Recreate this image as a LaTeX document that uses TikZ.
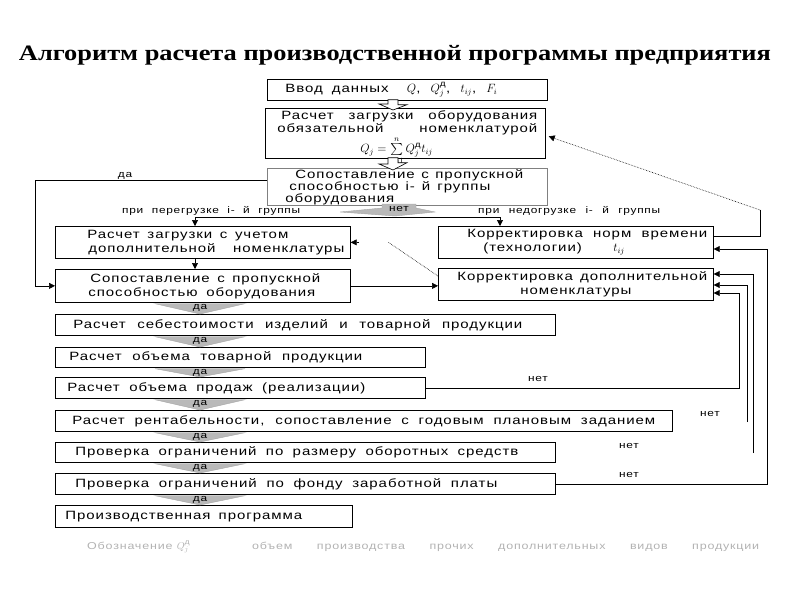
\documentclass[tikz,border=0pt]{standalone}
\usepackage{amsmath}
\usepackage{graphicx}
\usepackage{fontspec}
\setmainfont{Liberation Sans}[FakeStretch=1.25, LetterSpace=8]
\newfontfamily\titlefont{Liberation Serif}[FakeStretch=1.2]
\usetikzlibrary{calc,arrows.meta}

% one line spread to a given width
\newcommand{\wline}[2]{\makebox[#1][s]{\spaceskip=0pt\xspaceskip=0pt #2}}

\tikzset{
  blk/.style={draw, line width=0.7pt, anchor=north west, inner xsep=6pt, inner ysep=0pt,
    align=left, font=\fontsize{12}{14}\selectfont},
  arr/.style={-{Triangle[length=6pt,width=6pt]}},
  link/.style={line width=0.6pt},
  yes/.style={fill=gray!55, draw=gray!70, line width=0.4pt},
  lbl/.style={font=\fontsize{9.5}{10}\selectfont, inner sep=0pt},
}

\begin{document}
\begin{tikzpicture}[x=1pt,y=-1pt]
\useasboundingbox (0,0) rectangle (800,600);

\node[font=\titlefont\bfseries\fontsize{22}{26}\selectfont] (title) at (395,55)
  {Алгоритм расчета производственной программы предприятия};

% upper part
\node[blk, text width=268pt, minimum height=21pt] (inp) at (267,79)
  {\hspace*{12pt}\wline{212pt}{Ввод данных \ $Q$, $Q_j^{\text{д}}$, $t_{ij}$, $F_i$}};
\node[blk, text width=268pt, minimum height=50pt] (load) at (265,108)
  {\hspace*{10pt}\wline{256pt}{Расчет загрузки оборудования}\\[-1pt]
   \hspace*{6pt}\wline{260pt}{обязательной номенклатурой}\\[6pt]
   \hspace*{89pt}\raisebox{0pt}[9pt][3pt]{$Q_j=\sum\limits_{i=1}^{n}Q_j^{\text{д}}t_{ij}$}};
\node[blk, draw=gray, text width=268pt, minimum height=37pt, font=\fontsize{12}{12}\selectfont] (cmp) at (267,168)
  {\hspace*{22pt}\wline{228pt}{Сопоставление с пропускной}\\
   \hspace*{16pt}\wline{201pt}{способностью i- й группы}\\
   \hspace*{12pt}оборудования};

\node[blk, text width=283pt, minimum height=32pt] (addl) at (55,226)
  {\hspace*{26pt}\wline{201pt}{Расчет загрузки с учетом}\\
   \hspace*{27pt}\wline{256pt}{дополнительной номенклатуры}};
\node[blk, text width=263pt, minimum height=32pt] (norm) at (438,226)
  {\hspace*{23pt}\wline{240pt}{Корректировка норм времени}\\
   \hspace*{39pt}\makebox[130pt][l]{(технологии)}$t_{ij}$};
\node[blk, text width=283pt, minimum height=33pt] (cmpb) at (55,269)
  {\hspace*{29pt}\wline{230pt}{Сопоставление с пропускной}\\
   \hspace*{27pt}\wline{227pt}{способностью оборудования}};
\node[blk, text width=263pt, minimum height=32pt] (corr) at (438,268)
  {\hspace*{13pt}\wline{250pt}{Корректировка дополнительной}\\
   \hspace*{76pt}номенклатуры};

% lower chain
\node[blk, text width=488pt, minimum height=21pt] (cost) at (55,314)
  {\hspace*{12pt}\wline{449pt}{Расчет себестоимости изделий и товарной продукции}};
\node[blk, text width=358pt, minimum height=20pt] (vol) at (55,347)
  {\hspace*{8pt}\wline{293pt}{Расчет объема товарной продукции}};
\node[blk, text width=358pt, minimum height=21pt] (sale) at (55,377)
  {\hspace*{6pt}\wline{298pt}{Расчет объема продаж (реализации)}};
\node[blk, text width=605pt, minimum height=21pt] (prof) at (55,410)
  {\hspace*{11pt}\wline{583pt}{Расчет рентабельности, сопоставление с годовым плановым заданием}};
\node[blk, text width=488pt, minimum height=20pt] (cash) at (55,442)
  {\hspace*{14pt}\wline{443pt}{Проверка ограничений по размеру оборотных средств}};
\node[blk, text width=488pt, minimum height=21pt] (wage) at (55,473)
  {\hspace*{14pt}\wline{422pt}{Проверка ограничений по фонду заработной платы}};
\node[blk, text width=285pt, minimum height=22pt] (prog) at (55,505)
  {\hspace*{4pt}\wline{237pt}{Производственная программа}};

% routing points
\coordinate (axis) at (393,0);
\coordinate (yesrow) at (35,180);
\coordinate (spL) at (195,217);
\coordinate (spR) at (500,217);
\coordinate (dotend) at (388,242);
\coordinate (fb0) at (760,210);
\coordinate (fb1) at (767,249);
\coordinate (fb2) at (753,453);
\coordinate (fb3) at (747,422);
\coordinate (fb4) at (739,293);

% hollow arrows
\foreach \u/\v in {inp/load, load/cmp}
  \draw[line width=0.6pt, fill=white] ($(\u.south -| axis)+(-5,-1)$) -- ++(10,0) -- ++(0,5)
    -- ++(9,0) -- ($(\v.north -| axis)+(0,2)$) -- ++(-14,-6) -- ++(9,0) -- cycle;

% gray "нет" arrow and split line
\draw[link] (spL) -- (spR);
\filldraw[yes] (340,212) -- (382,208) -- (382,204) -- (416,204) -- (416,208) -- (435,212)
  -- (395,216) -- cycle;
\node[lbl] (no0) at (399,209) {нет};
\draw[link, arr] (spL) -- (spL |- addl.north);
\draw[link, arr] (spR) -- (spR |- norm.north);
\node[lbl, anchor=west] (over) at (122,211) {\wline{178pt}{при перегрузке i- й группы}};
\node[lbl, anchor=west] (under) at (478,211) {\wline{182pt}{при недогрузке i- й группы}};

% left "да" link
\draw[link, arr] (cmp.west |- yesrow) -- (yesrow) |- (cmpb.west);
\node[lbl] (yes0) at (125,176) {да};

\draw[link, arr] (spL |- addl.south) -- (spL |- cmpb.north);
\draw[link, arr] (cmpb.east) -- (cmpb.east -| corr.west);
\draw[link, densely dotted] ($(corr.north west)+(0,8)$) -- (dotend);
\draw[link, arr] ($(addl.east)+(8,0)$) -- (addl.east);

% right feedback links
\draw[link] ($(norm.north east)+(0,10)$) -| (fb0);
\draw[link, densely dotted, arr] (fb0) -- ($(load.east)+(3,3)$);
\draw[link, arr] (wage.east) -| (fb1) -- (fb1 -| norm.east);
\draw[link, arr] (fb2) |- ($(corr.north east)+(0,6)$);
\draw[link, arr] (fb3) |- ($(corr.north east)+(0,17)$);
\draw[link, arr] (sale.east) -| (fb4) -- (fb4 -| corr.east);

\node[lbl] (no1) at (538,379) {нет};
\node[lbl] (no2) at (710,414) {нет};
\node[lbl] (no3) at (629,446) {нет};
\node[lbl] (no4) at (629,475) {нет};

% gray "да" arrows
\foreach \u/\v in {cmpb/cost, cost/vol, vol/sale, sale/prof, prof/cash, cash/wage, wage/prog}{
  \filldraw[yes] ($(\u.south west)+(100,1)$) -- ($(\u.south west)+(190,1)$)
    -- ($(\v.north west)+(145,0)$) -- cycle;
  \node[lbl] at ($(\u.south west)+(145,5)$) {да};
}

\node[lbl, font=\fontsize{10}{11}\selectfont, text=gray!60, anchor=west] (legend) at (87,547)
  {\makebox[165pt][l]{Обозначение $Q_j^{\text{д}}$}\wline{507pt}{объем производства прочих дополнительных видов продукции}};
\end{tikzpicture}
\end{document}
